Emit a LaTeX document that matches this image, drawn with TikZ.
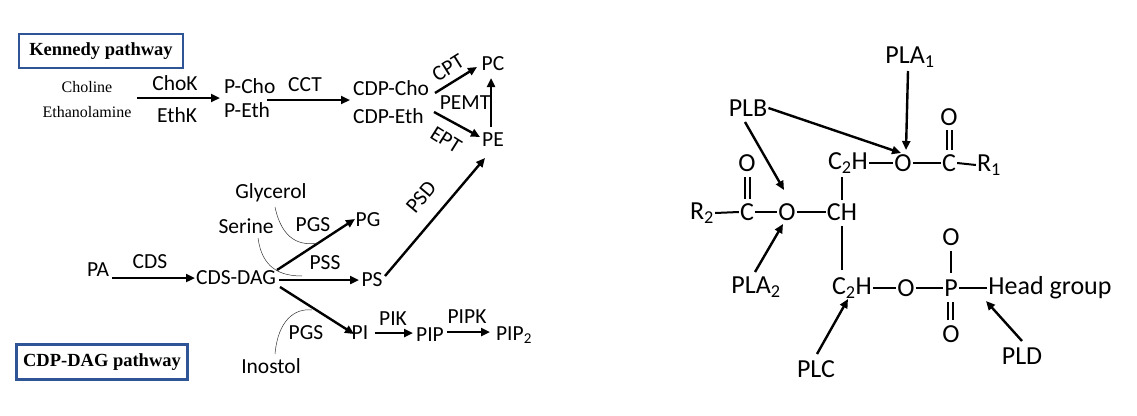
\documentclass[tikz,border=0pt]{standalone}
\usepackage{fontspec}
\setmainfont{Carlito}
\newfontfamily\serifb{Liberation Serif}
\usetikzlibrary{arrows.meta}
\definecolor{boxblue}{HTML}{2F5597}
\begin{document}
\begin{tikzpicture}[x=1pt,y=-1pt,
  t/.style={font=\fontsize{21.5}{24}\selectfont,inner sep=1pt},
  tr/.style={font=\fontsize{26}{28}\selectfont,inner sep=1pt},
  ts/.style={font=\serifb\fontsize{16}{18}\selectfont,inner sep=1pt},
  box/.style={draw=boxblue,line width=2.2pt,font=\serifb\bfseries\fontsize{18.5}{20}\selectfont,inner xsep=3pt,inner ysep=4pt},
  ar/.style={line width=2.4pt,-{Triangle[length=9pt,width=8pt]}},
  bd/.style={line width=2pt},
  thin/.style={line width=0.5pt,black!80}]
\useasboundingbox (0,0) rectangle (1137,415);
% Kennedy
\node[box,minimum width=164pt,minimum height=34pt] (kb) at (101,51) {Kennedy pathway};
\node[box,minimum width=171pt,minimum height=35pt] (cb) at (102,362) {CDP-DAG pathway};
\node[ts] (cho) at (87,87) {Choline};
\node[ts] (eth) at (87,112) {Ethanolamine};
\node[t] (chok) at (175,83) {ChoK};
\node[t] (ethk) at (177,115) {EthK};
\node[t,anchor=west] (pcho) at (223,86) {P-Cho};
\node[t,anchor=west] (peth) at (223,110) {P-Eth};
\node[t] (cct) at (305,85) {CCT};
\node[t,anchor=west] (cdpc) at (352,88) {CDP-Cho};
\node[t,anchor=west] (cdpe) at (352,116) {CDP-Eth};
\node[t] (pc) at (493,64) {PC};
\node[t] (pe) at (493,140) {PE};
\node[t,rotate=32] (cpt) at (448,68) {CPT};
\node[t] (pemt) at (465,103) {PEMT};
\node[t,rotate=-32] (ept) at (446,140) {EPT};
\coordinate (a1) at (137,98); \coordinate (a2) at (220,98);
\draw[ar] (a1) -- (a2);
\coordinate (b1) at (267,100); \coordinate (b2) at (350,100);
\draw[ar] (b1) -- (b2);
\coordinate (c1) at (435,93); \coordinate (c2) at (477,67);
\draw[ar] (c1) -- (c2);
\coordinate (d1) at (434,112); \coordinate (d2) at (480,137);
\draw[ar] (d1) -- (d2);
\coordinate (e1) at (491,127); \coordinate (e2) at (491,78);
\draw[ar] (e1) -- (e2);
% CDP-DAG
\node[t] (gly) at (271,193) {Glycerol};
\node[t] (ser) at (246,226) {Serine};
\node[t] (pgs1) at (313,225) {PGS};
\node[t] (pg) at (368,220) {PG};
\node[t] (pa) at (98,270) {PA};
\node[t] (cds) at (150,262) {CDS};
\node[t] (dag) at (236,278) {CDS-DAG};
\node[t] (pss) at (325,263) {PSS};
\node[t] (ps) at (372,280) {PS};
\node[t,rotate=50] (psd) at (421,197) {PSD};
\node[t] (pi) at (360,333) {PI};
\node[t] (pik) at (393,319) {PIK};
\node[t] (pip) at (430,335) {PIP};
\node[t] (pipk) at (467,317) {PIPK};
\node[t] (pip2) at (514,335) {PIP\textsubscript{2}};
\node[t] (pgs2) at (306,333) {PGS};
\node[t] (ino) at (271,366) {Inostol};
\coordinate (f1) at (112,278); \coordinate (f2) at (195,278);
\draw[ar] (f1) -- (f2);
\coordinate (g1) at (277,270); \coordinate (g2) at (355,219);
\draw[ar] (g1) -- (g2);
\coordinate (h1) at (279,280); \coordinate (h2) at (359,280);
\draw[ar] (h1) -- (h2);
\coordinate (i1) at (385,276); \coordinate (i2) at (485,158);
\draw[ar] (i1) -- (i2);
\coordinate (j1) at (280,287); \coordinate (j2) at (354,334);
\draw[ar] (j1) -- (j2);
\coordinate (k1) at (375,333); \coordinate (k2) at (413,333);
\draw[ar] (k1) -- (k2);
\coordinate (l1) at (447,332); \coordinate (l2) at (490,332);
\draw[ar] (l1) -- (l2);
\draw[thin] (275,207) .. controls (282,240) and (300,246) .. (318,243);
\draw[thin] (258,238) .. controls (262,268) and (280,276) .. (302,276);
\draw[thin] (275,354) .. controls (278,320) and (295,308) .. (312,310);
% structure
\node[tr] (pla1) at (910,57) {PLA\textsubscript{1}};
\node[tr] (plb) at (748,108) {PLB};
\node[tr] (o1) at (903,163) {O};
\node[tr] (c1n) at (949,163) {C};
\node[tr] (o1u) at (949,117) {O};
\node[tr] (r1) at (989,165) {R\textsubscript{1}};
\node[tr] (ch2a) at (848,163) {C\textsubscript{2}H};
\node[tr] (ch) at (842,212) {CH};
\node[tr] (o2) at (787,212) {O};
\node[tr] (c2n) at (747,212) {C};
\node[tr] (o2u) at (747,163) {O};
\node[tr] (r2) at (702,213) {R\textsubscript{2}};
\node[tr] (pla2) at (756,287) {PLA\textsubscript{2}};
\node[tr] (ch2b) at (852,288) {C\textsubscript{2}H};
\node[tr] (o3) at (906,288) {O};
\node[tr] (p) at (951,288) {P};
\node[tr] (hg) at (1050,288) {Head group};
\node[tr] (o3u) at (951,237) {O};
\node[tr] (o3d) at (951,334) {O};
\node[tr] (plc) at (816,369) {PLC};
\node[tr] (pld) at (1022,356) {PLD};
\draw[bd] (ch2a.east) -- (o1.west);
\draw[bd] (o1.east) -- (c1n.west);
\draw[bd] (c1n.east) -- (r1.west);
\draw[bd] (947,130) -- (947,150); \draw[bd] (952,130) -- (952,150);
\draw[bd] (842,177) -- (842,200);
\draw[bd] (842,226) -- (842,270);
\draw[bd] (r2.east) -- (c2n.west);
\draw[bd] (c2n.east) -- (o2.west);
\draw[bd] (o2.east) -- (ch.west);
\draw[bd] (745,177) -- (745,199); \draw[bd] (750,177) -- (750,199);
\draw[bd] (ch2b.east) -- (o3.west);
\draw[bd] (o3.east) -- (p.west);
\draw[bd] (p.east) -- (hg.west);
\draw[bd] (951,251) -- (951,273);
\draw[bd] (948,302) -- (948,320); \draw[bd] (953,302) -- (953,320);
\draw[ar] (908,71) -- (906,150);
\draw[ar] (plb.east) -- (901,153);
\draw[ar] (745,122) -- (784,190);
\draw[ar] (755,272) -- (783,224);
\draw[ar] (817,354) -- (848,299);
\draw[ar] (1022,341) -- (986,301);
\end{tikzpicture}
\end{document}
